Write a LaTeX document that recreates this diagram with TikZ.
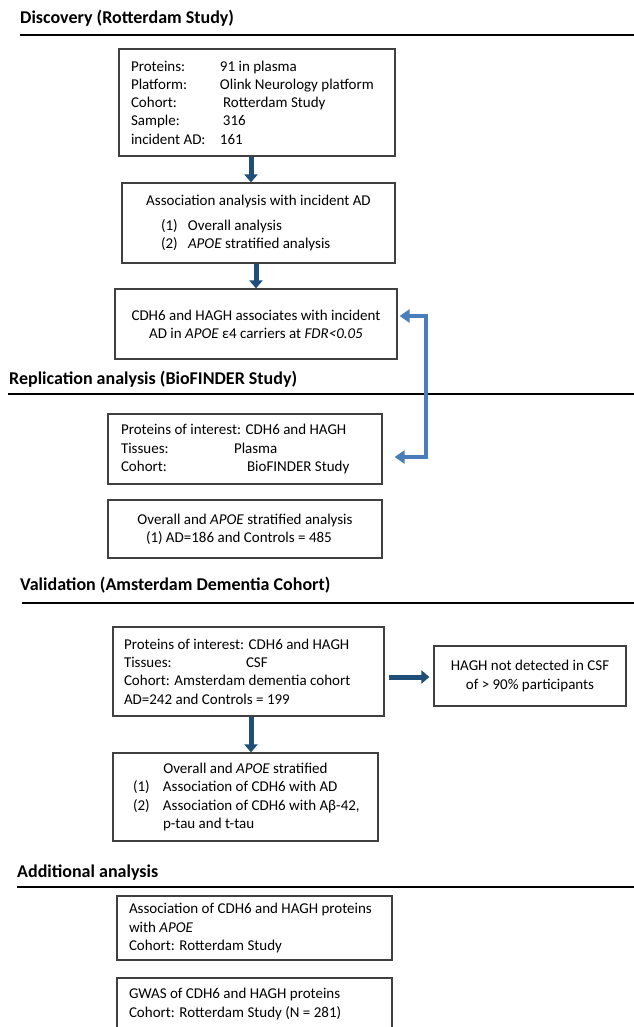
\documentclass[tikz,border=0pt]{standalone}
\usepackage{fontspec}
\setmainfont{Carlito}
\usetikzlibrary{arrows.meta,calc}
\definecolor{darkarrow}{HTML}{1F4E79}
\definecolor{lightarrow}{HTML}{4A7EBB}
\definecolor{boxline}{HTML}{404040}
\newcommand{\bodyfont}{\fontsize{15}{18.3}\selectfont}
\newcommand{\headfont}{\fontsize{18}{21}\selectfont\bfseries}
\begin{document}
\begin{tikzpicture}[x=1pt,y=-1pt,
  box/.style={draw=boxline, line width=1.2pt, inner sep=0pt, font=\bodyfont},
  head/.style={anchor=base west, inner sep=0pt, font=\headfont},
  rule/.style={line width=2pt, black},
  darr/.style={draw=darkarrow, line width=5pt, -{Triangle[width=13pt,length=8pt]}},
  larr/.style={draw=lightarrow, line width=3.5pt, {Triangle[width=13pt,length=10pt]}-{Triangle[width=13pt,length=10pt]}}
]
\useasboundingbox (0,0) rectangle (633,1027);

% headings and rules
\node[head] (h1) at (20,23.5) {Discovery (Rotterdam Study)};
\draw[rule] (20,35) -- (634,35);
\node[head] (h2) at (9,384.5) {Replication analysis (BioFINDER Study)};
\draw[rule] (8,394) -- (634,394);
\node[head] (h3) at (20,590.5) {Validation (Amsterdam Dementia Cohort)};
\draw[rule] (22,603) -- (634,603);
\node[head] (h4) at (17,877.5) {Additional analysis};
\draw[rule] (17,887) -- (634,887);

% boxes
\node[box, minimum width=276, minimum height=107] (b1) at (257,102.5)
 {\parbox{252pt}{\makebox[89pt][l]{Proteins:}91 in plasma\\
 \makebox[89pt][l]{Platform:}Olink Neurology platform\\
 \makebox[92pt][l]{Cohort:}Rotterdam Study\\
 \makebox[92pt][l]{Sample:}316\\
 \makebox[89pt][l]{incident AD:}161}};

\node[box, minimum width=273, minimum height=80] (b2) at (258.5,223)
 {\parbox{249pt}{\centering\mbox{Association analysis with incident AD}\par\vspace{6.5pt}
 \raggedright\hspace*{27pt}\makebox[27pt][l]{(1)}Overall analysis\par
 \hspace*{27pt}\makebox[27pt][l]{(2)}\textit{APOE} stratified analysis}};

\node[box, minimum width=282, minimum height=70] (b3) at (256,324)
 {\parbox{270pt}{\centering\mbox{CDH6 and HAGH associates with incident}\\
 \mbox{AD in \textit{APOE} ε4 carriers at \textit{FDR<0.05}}}};

\node[box, minimum width=274, minimum height=70] (b4) at (245,449)
 {\parbox{248pt}{\mbox{Proteins of interest: CDH6 and HAGH}\\
 \makebox[113pt][l]{Tissues:}Plasma\\
 \makebox[126pt][l]{Cohort:}BioFINDER Study}};

\node[box, minimum width=274, minimum height=58] (b5) at (245,529)
 {\parbox{250pt}{\centering\mbox{Overall and \textit{APOE} stratified analysis}\par
 \raggedright\hspace*{26pt}\makebox[20pt][l]{(1)}\mbox{AD=186 and Controls = 485}}};

\node[box, minimum width=271, minimum height=89] (b6) at (248.5,671.5)
 {\parbox{249pt}{\mbox{Proteins of interest: CDH6 and HAGH}\\
 \makebox[122pt][l]{Tissues:}CSF\\
 \mbox{Cohort: Amsterdam dementia cohort}\\
 \mbox{AD=242 and Controls = 199}}};

\node[box, minimum width=192, minimum height=60] (b7) at (530,676)
 {\parbox{180pt}{\centering HAGH not detected in CSF\\ of > 90\% participants}};

\node[box, minimum width=265, minimum height=88] (b8) at (245.5,797)
 {\parbox{245pt}{\centering\mbox{Overall and \textit{APOE} stratified}\par
 \raggedright\hspace*{10pt}\makebox[30pt][l]{(1)}\mbox{Association of CDH6 with AD}\par
 \hspace*{10pt}\makebox[30pt][l]{(2)}\mbox{Association of CDH6 with Aβ-42,}\par
 \hspace*{40pt}\mbox{p-tau and t-tau}}};

\node[box, minimum width=275, minimum height=64] (b9) at (254.5,928)
 {\parbox{251pt}{\mbox{Association of CDH6 and HAGH proteins}\\
 with \textit{APOE}\\
 Cohort: Rotterdam Study}};

\node[box, minimum width=275, minimum height=52] (b10) at (254.5,1004)
 {\parbox{251pt}{\mbox{GWAS of CDH6 and HAGH proteins}\\
 \mbox{Cohort: Rotterdam Study (N = 281)}}};

% connectors
\coordinate (xa) at (251,0);
\coordinate (xb) at (256,0);
\coordinate (yr) at (0,677);
\coordinate (vx) at (426,0);
\draw[darr] (b1.south -| xa) -- (b2.north -| xa);
\draw[darr] (b2.south -| xb) -- (b3.north -| xb);
\draw[darr] (b6.south -| xa) -- (b8.north -| xa);
\draw[darr] ($(b6.east |- yr)+(4,0)$) -- ($(b7.west |- yr)+(-4,0)$);
\coordinate (p1) at ($(b3.east)+(2,-8)$);
\coordinate (p2) at ($(b4.east)+(12,8)$);
\draw[larr] (p1) -- (p1 -| vx) -- (p2 -| vx) -- (p2);
\end{tikzpicture}
\end{document}
